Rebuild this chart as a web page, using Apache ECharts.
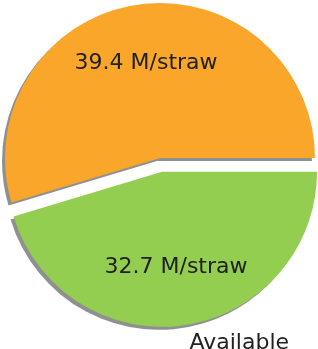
<!DOCTYPE html>
<html>
<head>
<meta charset="utf-8">
<style>
  html, body { margin: 0; padding: 0; background: #fff; }
  #main { width: 318px; height: 349px; }
</style>
<script src="https://cdn.jsdelivr.net/npm/echarts@6/dist/echarts.min.js"></script>
</head>
<body>
<div id="main"></div>
<script>
var chart = echarts.init(document.getElementById('main'));

// slice data
const names = ['', 'Available'];
const values = [39.4, 32.7];
const colors = ['#F9A62B', '#93CE50'];
const exploded = [false, true];

const R = 155;
const center = [160, 158];

function items(fn) {
    return values.map((v, i) => Object.assign({
        name: names[i],
        value: v,
        selected: exploded[i]
    }, fn(i)));
}

const base = {
    type: 'pie',
    center: center,
    startAngle: 0,
    clockwise: false,
    selectedMode: 'single',
    selectedOffset: 14,
    avoidLabelOverlap: false,
    labelLine: { show: false },
    emphasis: { disabled: true },
    silent: true,
    animation: false
};

var option = {
    backgroundColor: '#fff',
    series: [
        // the slices themselves
        Object.assign({}, base, {
            radius: [0, R],
            label: { show: false },
            data: items((i) => ({
                itemStyle: {
                    color: colors[i],
                    shadowColor: 'rgba(70,70,70,0.6)',
                    shadowBlur: 0,
                    shadowOffsetX: -3,
                    shadowOffsetY: 3
                }
            }))
        }),
        // value labels at 0.6 R
        Object.assign({}, base, {
            radius: [R * 0.5, R * 0.7],
            label: {
                show: true,
                position: 'inside',
                fontFamily: 'DejaVu Sans',
                fontSize: 22,
                color: '#222',
                formatter: (p) => p.value + ' M/straw'
            },
            data: items((i) => ({
                itemStyle: { color: 'transparent' },
                label: { padding: i === 0 ? [6, 0, 0, 0] : 0 }
            }))
        }),
        // name labels at 1.1 R; left padding makes them start at the anchor
        Object.assign({}, base, {
            radius: [R * 1.05, R * 1.15],
            label: {
                show: true,
                position: 'inside',
                fontFamily: 'DejaVu Sans',
                fontSize: 22,
                color: '#222',
                padding: [0, 0, 16, 104],
                formatter: (p) => p.name
            },
            data: items(() => ({ itemStyle: { color: 'transparent' } }))
        })
    ]
};

chart.setOption(option);

window.addEventListener('resize', function () {
    chart.resize();
});
</script>
</body>
</html>
